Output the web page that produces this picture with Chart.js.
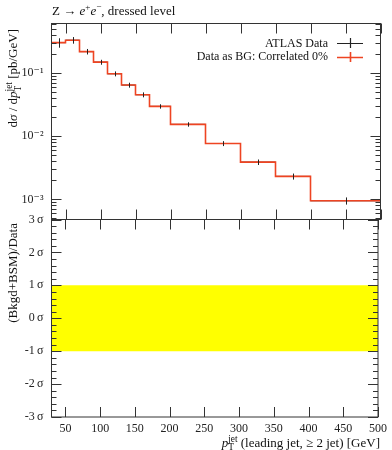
<!DOCTYPE html>
<html>
<head>
<meta charset="utf-8">
<script src="https://cdn.jsdelivr.net/npm/chart.js@4/dist/chart.umd.min.js"></script>
<style>
  body { margin: 0; background: #fff; width: 392px; height: 450px; overflow: hidden; position: relative;
    font-family: 'Liberation Serif', 'DejaVu Serif', serif; color: #111; }
  canvas { position: absolute; left: 0; top: 0; }
  .lbl { position: absolute; font-size: 13px; white-space: nowrap; line-height: 1; }
  .ss { display: inline-block; vertical-align: -0.38em; line-height: 0.9; font-size: 0.72em; text-align: left; }
  .ss span { display: block; }
  .rot { transform-origin: 0 0; transform: rotate(-90deg); text-align: right; height: 18px; line-height: 18px; }
  .leg { position: absolute; right: 29px; font-size: 12px; line-height: 13.4px; text-align: right; }
  .leg div { display: flex; align-items: center; justify-content: flex-end; height: 13.4px; }
  .leg svg { margin-left: 9px; }
</style>
</head>
<body>
<canvas id="top" width="392" height="450"></canvas>
<canvas id="ratio" width="392" height="450"></canvas>

<div class="lbl" style="left:52px;top:3px">Z → <i>e</i><sup style="font-size:0.7em">+</sup><i>e</i><sup style="font-size:0.7em">−</sup>, dressed level</div>

<div class="lbl rot" style="left:4px;top:219px;width:190px">d<i>σ</i> / d<i>p</i><span class="ss"><span>jet</span><span>T</span></span> [pb/GeV]</div>
<div class="lbl rot" style="left:4px;top:417px;width:194px">(Bkgd+BSM)/Data</div>
<div class="lbl" style="right:12px;top:435px"><i>p</i><span class="ss"><span>jet</span><span>T</span></span> (leading jet, ≥ 2 jet) [GeV]</div>

<div class="leg" style="top:36.6px">
  <div>ATLAS Data<svg width="26" height="10"><path d="M0 5.5H26M13.5 0V10" stroke="#222" stroke-width="1.2"/></svg></div>
  <div>Data as BG: Correlated 0%<svg width="26" height="10"><path d="M0 5.5H26M13.5 0V10" stroke="#ee4422" stroke-width="1.6"/></svg></div>
</div>

<script>
// pT bins (GeV) and measured cross-section per bin
const binEdges = [30, 50, 70, 90, 110, 130, 150, 170, 200, 250, 300, 350, 400, 500];
const binCentres = [40, 60, 80, 100, 120, 140, 160, 185, 225, 275, 325, 375, 450];
const dataXsec = [0.304, 0.332, 0.219, 0.149, 0.0975, 0.0646, 0.0454, 0.0297, 0.0154, 0.00767, 0.00389, 0.00231, 0.00095];
const dataRelErr = [0.17, 0.12, 0.10, 0.09, 0.09, 0.09, 0.09, 0.08, 0.08, 0.09, 0.10, 0.11, 0.13];
// "Data as BG" prediction sits on top of the data
const bgXsec = [0.304, 0.332, 0.219, 0.149, 0.0975, 0.0646, 0.0454, 0.0297, 0.0154, 0.00767, 0.00389, 0.00231, 0.00095];
// ratio panel: deviation in sigma, and the +-1 sigma band
const bgPull = [0, 0, 0, 0, 0, 0, 0, 0, 0, 0, 0, 0, 0];
const bandX = [30, 500];
const bandHi = [1, 1];
const bandLo = [-1, -1];
// axis ticks
const xTicks = [50, 100, 150, 200, 250, 300, 350, 400, 450, 500];
const yMajor = [1e-3, 1e-2, 1e-1];
const sigmaTicks = [-3, -2, -1, 0, 1, 2, 3];

const RED = '#ee4422';
const FONT = { family: "'Liberation Serif', 'DejaVu Serif', serif", size: 12 };
const supers = { '-': '⁻', '1': '¹', '2': '²', '3': '³' };

// histogram outline: one point at each low edge, plus the last upper edge
const steps = (vals) => binEdges.map((e, i) => ({ x: e, y: vals[Math.min(i, vals.length - 1)] }));

// rivet-style frame with inward ticks on all four sides
const frameTicks = {
  id: 'frameTicks',
  afterDraw(chart) {
    const { ctx, chartArea: a, scales } = chart;
    const x = scales.x, y = scales.y;
    ctx.save();
    ctx.strokeStyle = '#333';
    ctx.lineWidth = 1;
    ctx.beginPath();
    xTicks.forEach(v => {
      const px = Math.round(x.getPixelForValue(v)) + 0.5;
      ctx.moveTo(px, a.top); ctx.lineTo(px, a.top + 10);
      ctx.moveTo(px, a.bottom); ctx.lineTo(px, a.bottom - 10);
    });
    y.ticks.forEach(t => {
      const len = t.major ? 10 : 5;
      const py = Math.round(y.getPixelForValue(t.value)) + 0.5;
      ctx.moveTo(a.left, py); ctx.lineTo(a.left + len, py);
      ctx.moveTo(a.right, py); ctx.lineTo(a.right - len, py);
    });
    ctx.stroke();
    ctx.strokeRect(a.left, a.top, a.right - a.left, a.bottom - a.top);
    ctx.restore();
  }
};

// data points: horizontal bin bars under the red line, vertical error bars over it
const errorBars = {
  id: 'errorBars',
  beforeDatasetsDraw(chart) {
    const { ctx, chartArea: a, scales: { x, y } } = chart;
    ctx.save();
    ctx.beginPath(); ctx.rect(a.left, a.top, a.right - a.left, a.bottom - a.top); ctx.clip();
    ctx.strokeStyle = '#222'; ctx.lineWidth = 1;
    ctx.beginPath();
    dataXsec.forEach((v, i) => {
      const py = y.getPixelForValue(v);
      ctx.moveTo(x.getPixelForValue(binEdges[i]), py);
      ctx.lineTo(x.getPixelForValue(binEdges[i + 1]), py);
    });
    ctx.stroke();
    ctx.restore();
  },
  afterDatasetsDraw(chart) {
    const { ctx, scales: { x, y } } = chart;
    ctx.save();
    ctx.strokeStyle = '#222'; ctx.lineWidth = 1;
    ctx.beginPath();
    dataXsec.forEach((v, i) => {
      const px = Math.round(x.getPixelForValue(binCentres[i])) + 0.5;
      ctx.moveTo(px, y.getPixelForValue(v * (1 + dataRelErr[i])));
      ctx.lineTo(px, y.getPixelForValue(v * (1 - dataRelErr[i])));
    });
    ctx.stroke();
    ctx.restore();
  }
};

const xScale = (show) => ({
  type: 'linear', min: 30, max: 500, display: show,
  grid: { display: false, drawTicks: false },
  border: { display: false },
  afterBuildTicks: s => { s.ticks = xTicks.map(v => ({ value: v })); },
  afterFit: s => { s.height = show ? 33 : 0; },
  ticks: { color: '#222', font: FONT, padding: 5, maxRotation: 0, autoSkip: false }
});

new Chart(document.getElementById('top'), {
  type: 'line',
  data: {
    datasets: [{
      data: steps(bgXsec), stepped: 'before', borderColor: RED, borderWidth: 1.6,
      pointRadius: 0, fill: false
    }]
  },
  options: {
    responsive: false, animation: false, devicePixelRatio: 1,
    layout: { padding: { left: 0, top: 23.5, right: 11.5, bottom: 230.5 } },
    plugins: { legend: { display: false }, tooltip: { enabled: false } },
    scales: {
      x: xScale(false),
      y: {
        type: 'logarithmic', min: 4.8e-4, max: 0.61,
        grid: { display: false, drawTicks: false },
        border: { display: false },
        afterFit: s => { s.width = 51.5; },
        afterBuildTicks: s => {
          const ticks = [];
          [-4, -3, -2, -1].forEach(p => {
            for (let m = 1; m < 10; m++) {
              const v = m * Math.pow(10, p);
              if (v >= 4.8e-4 && v <= 0.61) ticks.push({ value: v, major: m === 1 });
            }
          });
          s.ticks = ticks;
        },
        ticks: {
          color: '#222', font: FONT, padding: 8, autoSkip: false,
          callback: (v) => {
            const p = Math.round(Math.log10(v));
            if (!yMajor.some(m => Math.abs(m - v) / m < 1e-6)) return '';
            return '10' + String(p).split('').map(c => supers[c]).join('');
          }
        }
      }
    }
  },
  plugins: [errorBars, frameTicks]
});

new Chart(document.getElementById('ratio'), {
  type: 'line',
  data: {
    datasets: [
      { data: bandX.map((x, i) => ({ x, y: bandHi[i] })), borderWidth: 0, pointRadius: 0,
        backgroundColor: '#ffff00', fill: '+1' },
      { data: bandX.map((x, i) => ({ x, y: bandLo[i] })), borderWidth: 0, pointRadius: 0, fill: false },
      { data: steps(bgPull), stepped: 'before', borderColor: RED, borderWidth: 1.6, pointRadius: 0, fill: false }
    ]
  },
  options: {
    responsive: false, animation: false, devicePixelRatio: 1,
    layout: { padding: { left: 0, top: 219.5, right: 11.5, bottom: 0 } },
    plugins: { legend: { display: false }, tooltip: { enabled: false } },
    scales: {
      x: xScale(true),
      y: {
        type: 'linear', min: -3, max: 3,
        grid: { display: false, drawTicks: false },
        border: { display: false },
        afterFit: s => { s.width = 51.5; },
        afterBuildTicks: s => {
          const ticks = [];
          for (let k = -15; k <= 15; k++) ticks.push({ value: k / 5, major: k % 5 === 0 });
          s.ticks = ticks;
        },
        ticks: {
          color: '#222', font: FONT, padding: 8, autoSkip: false,
          callback: (v) => sigmaTicks.includes(Math.round(v * 5) / 5) ? `${Math.round(v)}\u2009σ` : ''
        }
      }
    }
  },
  plugins: [frameTicks]
});
</script>
</body>
</html>
